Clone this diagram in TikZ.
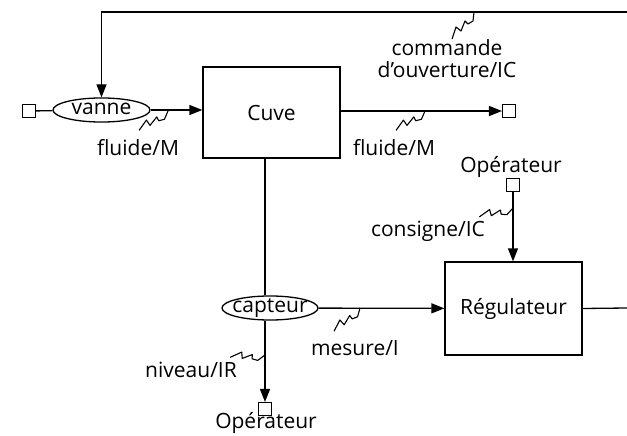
\documentclass[tikz,border=0pt]{standalone}
\usepackage{fontspec}
\setmainfont{Open Sans}
\usetikzlibrary{shapes.geometric,arrows.meta}

\tikzset{every picture/.style={line width=1.3pt}}
\tikzset{
boite/.style={draw, minimum width=137, inner sep=0pt, font=\fontsize{21}{24}\selectfont},
organe/.style={draw, ellipse, minimum width=96, minimum height=24, text height=9pt, text depth=1pt,
  inner ysep=3.5pt, font=\fontsize{21}{24}\selectfont},
borne/.style={draw, minimum size=13, inner sep=0pt, line width=1.1pt},
fleche/.style={-{Triangle[length=13pt,width=10pt]}},
etiq/.style={inner sep=0.75pt, font=\fontsize{21}{24}\selectfont},
eclair/.pic={\draw[line width=1.1pt, line join=round] (0,0) -- (-1,-9) -- (-6,-12) -- (-9,-9) -- (-13,-19)
  -- (-18,-15) -- (-22,-27);}
}

\begin{document}
\begin{tikzpicture}[x=1pt,y=1pt,yscale=-1]
\useasboundingbox (0,0) rectangle (627,436);

% Blocs
\node[borne] (entree) at (29,111) {};
\node[organe, inner xsep=0pt, minimum width=97] (vanne) at (101.5,110) {vanne};
\node[boite, minimum height=91] (cuve) at (271.5,112.5) {Cuve};
\node[borne] (sortie) at (509,111) {};
\node[etiq] (opHaut) at (511,167) {Opérateur};
\node[borne] (consigne) at (513,185) {};
\node[boite, minimum height=93] (regul) at (513.5,308.5) {Régulateur};
\node[organe, inner xsep=-5pt] (capteur) at (270,308) {capteur};
\node[borne] (opBas) at (265,409) {};
\node[etiq] (opBasT) at (266,423) {Opérateur};

% Bords de l'image
\coordinate (bordH) at (627,12);
\coordinate (bordD) at (627,308);

% Liaisons
\draw (entree) -- (vanne);
\draw[fleche] (vanne) -- (cuve.west |- vanne);
\draw[fleche] (cuve.east |- sortie) -- (sortie);
\draw[fleche] (bordH) -| (vanne.north);
\draw[fleche] (consigne) -- (regul.north -| consigne);
\draw (cuve.south -| opBas) -- (capteur.north -| opBas);
\draw[fleche] (capteur.south -| opBas) -- (opBas);
\draw[fleche] (capteur) -- (regul);
\draw (regul.east) -- (bordD);

% Flux
\pic[rotate=-17] at (168,111) {eclair};
\pic[rotate=-17] at (425,111) {eclair};
\pic at (474,12) {eclair};
\pic[rotate=-36] at (513,208) {eclair};
\pic[rotate=-9] at (360,308) {eclair};
\pic[rotate=-47] at (265,355) {eclair};

% Text Node
\node[etiq] (flM1) at (138,148) {fluide/M};
\node[etiq] (flM2) at (394,148) {fluide/M};
\node[etiq, align=center, font=\fontsize{21}{22}\selectfont] (cmd) at (447,59) {commande\\d'ouverture/IC};
\node[etiq] (cons) at (428,231) {consigne/IC};
\node[etiq] (mes) at (355,348) {mesure/I};
\node[etiq] (niv) at (191,370) {niveau/IR};

\end{tikzpicture}
\end{document}
